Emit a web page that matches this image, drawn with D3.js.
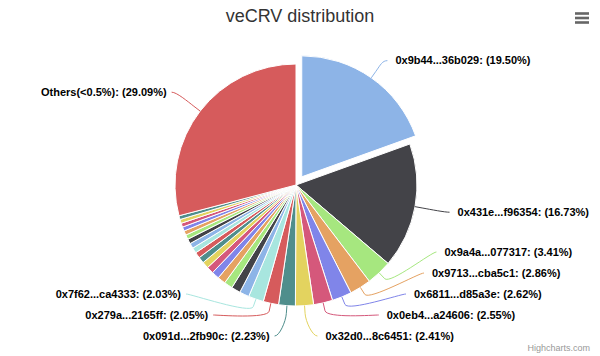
<!DOCTYPE html>
<html><head><meta charset="utf-8">
<script src="https://cdn.jsdelivr.net/npm/d3@7"></script>
<style>html,body{margin:0;padding:0;background:#fff;} svg{display:block;}</style>
</head><body><svg id="chart" width="600" height="356"></svg>
<script>
const chartTitle = "veCRV distribution";
const holderNames = ["0x9b44...36b029","0x431e...f96354","0x9a4a...077317","0x9713...cba5c1","0x6811...d85a3e","0x0eb4...a24606","0x32d0...8c6451","0x091d...2fb90c","0x279a...2165ff","0x7f62...ca4333"];
const holderShares = [19.50,16.73,3.41,2.86,2.62,2.55,2.41,2.23,2.05,2.03];
// smaller holders whose labels are hidden in the reference
const smallShares = [1.29,1.21,1.14,1.07,1.01,0.94,0.88,0.83,0.78,0.73,0.69,0.65,0.61,0.58,0.55,0.53,0.52,0.51];
const othersName = "Others(<0.5%)";
const othersShare = 29.09;
const palette = ["#8db4e7","#434348","#a6e77f","#e5a262","#8085e9","#d5587b","#e3d35f","#4f8e8c","#d65b5c","#a8e6df"];

const data = [];
holderNames.forEach((n,i)=>data.push({name:n, value:holderShares[i], labelled:true}));
smallShares.forEach(v=>data.push({name:null, value:v, labelled:false}));
data.push({name:othersName, value:othersShare, labelled:true});
data.forEach((d,i)=>{ d.color = palette[i % palette.length]; d.sliced = (i===0); });

const W=600, H=356, cx=296, cy=185, r=121, labelR=152, slicedOffset=10;
const FONT = '"Lucida Grande","Lucida Sans Unicode",Arial,"Liberation Sans",Helvetica,sans-serif';
const svg = d3.select("#chart");

svg.append("text").attr("x",300).attr("y",22).attr("text-anchor","middle")
  .attr("font-family",FONT).attr("font-size","18px").attr("fill","#333333").text(chartTitle);

// menu icon
const menu = svg.append("g");
[13.5,18,22.5].forEach(y=>menu.append("line").attr("x1",575).attr("x2",589).attr("y1",y).attr("y2",y)
  .attr("stroke","#666666").attr("stroke-width",2.6));

svg.append("text").attr("x",590).attr("y",351).attr("text-anchor","end")
  .attr("font-family",FONT).attr("font-size","9px").attr("fill","#999999").text("Highcharts.com");

const pie = d3.pie().sort(null).value(d=>d.value).startAngle(0).endAngle(2*Math.PI);
const arcs = pie(data);
const arc = d3.arc().innerRadius(0).outerRadius(r);
const pt = (a,rho,off)=>[cx+off[0]+rho*Math.sin(a), cy+off[1]-rho*Math.cos(a)];

arcs.forEach(a=>{
  const mid=(a.startAngle+a.endAngle)/2;
  a.mid=mid;
  a.off = a.data.sliced ? [slicedOffset*Math.sin(mid), -slicedOffset*Math.cos(mid)] : [0,0];
});

const g = svg.append("g");
g.selectAll("path.slice").data(arcs).join("path").attr("class","slice")
  .attr("d",arc)
  .attr("transform",d=>`translate(${cx+d.off[0]},${cy+d.off[1]})`)
  .attr("fill",d=>d.data.color).attr("stroke","#ffffff").attr("stroke-width",1).attr("stroke-linejoin","round");

// label layout
const labelled = arcs.filter(a=>a.data.labelled);
labelled.forEach(a=>{
  a.side = a.mid < Math.PI ? 1 : -1;
  a.ly = cy - labelR*Math.cos(a.mid);
});
const bottomLimit = 336, gap = 21;
[1,-1].forEach(side=>{
  const list = labelled.filter(a=>a.side===side).sort((p,q)=>p.ly-q.ly);
  for(let i=list.length-1;i>=0;i--){
    const lim = i===list.length-1 ? bottomLimit : list[i+1].ly-gap;
    list[i].ly = Math.min(list[i].ly, lim);
  }
});
labelled.forEach(a=>{
  const dy = a.ly - cy;
  const dx = Math.sqrt(Math.max(0, labelR*labelR - dy*dy));
  const pad = a.side>0 ? 12 : 9;
  a.tx = cx + a.side*(dx+pad);
  a.connX = a.tx - a.side*(pad-4);
});

const lg = svg.append("g");
labelled.forEach(a=>{
  const t = pt(a.mid, r, a.off), b = pt(a.mid, r+8, a.off);
  const p = d3.path();
  p.moveTo(a.connX, a.ly);
  p.bezierCurveTo(a.connX - a.side*5, a.ly, 2*b[0]-t[0], 2*b[1]-t[1], b[0], b[1]);
  p.lineTo(t[0], t[1]);
  lg.append("path").attr("d",p.toString()).attr("fill","none").attr("stroke",a.data.color).attr("stroke-width",1);
  lg.append("text").attr("x",a.tx).attr("y",a.ly).attr("dy","0.35em")
    .attr("text-anchor",a.side>0?"start":"end")
    .attr("font-family",FONT).attr("font-size","11px").attr("font-weight","bold").attr("fill","#000000")
    .text(`${a.data.name}: (${a.data.value.toFixed(2)}%)`);
});
</script></body></html>
